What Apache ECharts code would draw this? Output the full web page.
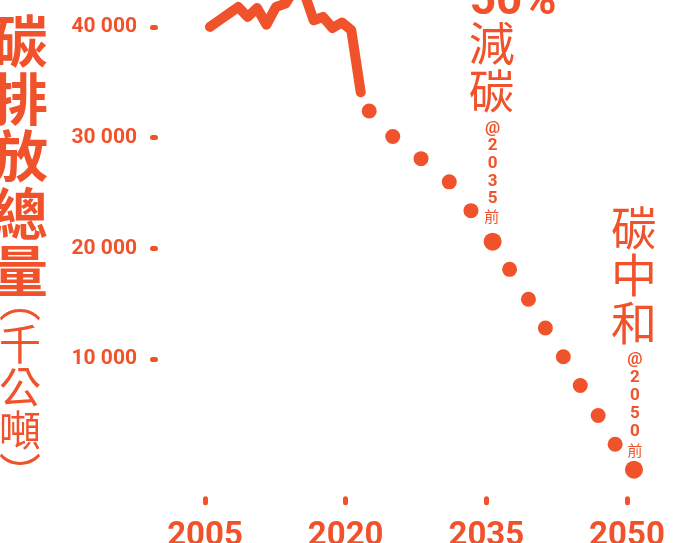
<!DOCTYPE html>
<html>
<head>
<meta charset="utf-8">
<title>碳排放總量</title>
<script src="https://cdn.jsdelivr.net/npm/echarts@6/dist/echarts.min.js"></script>
<style>
    html, body { margin: 0; padding: 0; background: #fff; }
    #main { width: 681px; height: 543px; }
</style>
</head>
<body>
<div id="main"></div>
<script>
// 實際排放 (千公噸)
var histYears = [2005, 2006, 2007, 2008, 2009, 2010, 2011, 2012, 2013, 2014, 2015, 2016, 2017, 2018, 2019, 2020, 2021];
var histValues = [40000, 40600, 41200, 41800, 40900, 41700, 40200, 41800, 42100, 43400, 43100, 40600, 40900, 39900, 40400, 39700, 34100];
// 減碳路徑
var pathYears = [2021.9, 2024.4, 2027.4, 2030.4, 2032.7, 2035, 2036.8, 2038.8, 2040.6, 2042.5, 2044.3, 2046.2, 2048, 2050];
var pathValues = [32400, 30100, 28100, 26000, 23400, 20600, 18100, 15400, 12800, 10200, 7600, 4900, 2300, 0];
var targetYears = [2035, 2050];
var xTicks = [2005, 2020, 2035, 2050];
var yTicks = [10000, 20000, 30000, 40000];

var color = '#F0532B';
var cjk = '"Noto Sans CJK TC", "Noto Sans CJK SC", sans-serif';

var chart = echarts.init(document.getElementById('main'));

function fmt(v) {
    return String(v).replace(/\B(?=(\d{3})+(?!\d))/g, ' ');
}

// 直排文字
function vert(s) {
    return s.split('').join('\n');
}

chart.setOption({
    animation: false,
    grid: {left: 155.5, right: 16.5, top: 0, bottom: 44.2, outerBoundsMode: 'none', containLabel: false},
    xAxis: [
        {type: 'value', min: 1999.22, max: 2053.24, show: false, position: 'top'},
        {
            type: 'value', min: 1999.72, max: 2054, position: 'bottom',
            axisLine: {show: false}, splitLine: {show: false},
            axisTick: {customValues: xTicks, length: 4, lineStyle: {color: color, width: 5, cap: 'round'}},
            axisLabel: {customValues: xTicks, margin: 21, color: color, fontFamily: 'Roboto', fontWeight: 'bold', fontSize: 33,
                formatter: function (v) { return String(v); }}
        }
    ],
    yAxis: {
        type: 'value', min: -2630, max: 42430,
        axisLine: {show: false}, splitLine: {show: false},
        axisTick: {customValues: yTicks, length: 3, lineStyle: {color: color, width: 5, cap: 'round'}},
        axisLabel: {customValues: yTicks, margin: 18.5, color: color, fontFamily: 'Roboto', fontWeight: 'bold', fontSize: 21, formatter: fmt}
    },
    series: [
        {
            type: 'line', xAxisIndex: 0, symbol: 'none', clip: false,
            data: histYears.map(function (y, i) { return [y, histValues[i]]; }),
            lineStyle: {color: color, width: 10, cap: 'round', join: 'round'}
        },
        {
            type: 'scatter', xAxisIndex: 0, clip: false,
            data: pathYears.map(function (y, i) { return [y, pathValues[i]]; }),
            symbolSize: function (d) { return targetYears.indexOf(d[0]) >= 0 ? 18 : 15; },
            itemStyle: {color: color, opacity: 1}
        }
    ]
});

var x35 = chart.convertToPixel({xAxisIndex: 0, yAxisIndex: 0}, [2035, 0])[0];
var x50 = chart.convertToPixel({xAxisIndex: 0, yAxisIndex: 0}, [2050, 0])[0];

chart.setOption({
    graphic: [
        // y軸標題
        {type: 'text', x: 20, y: 12, style: {text: vert('碳排放總量'), fontFamily: cjk, fontWeight: 'bold', fontSize: 56, lineHeight: 57.5, fill: color, align: 'center', verticalAlign: 'top'}},
        {type: 'text', x: 20, y: 280, style: {text: vert('︵千公噸︶'), fontFamily: cjk, fontSize: 42, lineHeight: 43, fill: color, align: 'center', verticalAlign: 'top'}},
        // 2035 目標
        {type: 'text', x: x35 - 23, y: 2, style: {text: '50%', fontFamily: 'Roboto', fontWeight: 'bold', fontSize: 46, fill: color, align: 'left', verticalAlign: 'middle'}},
        {type: 'text', x: x35 - 1, y: 18.5, style: {text: vert('減碳'), fontFamily: cjk, fontSize: 46, lineHeight: 48, fill: color, align: 'center', verticalAlign: 'top'}},
        {type: 'text', x: x35, y: 119.7, style: {text: vert('@2035'), fontFamily: 'Roboto', fontWeight: 'bold', fontSize: 17, lineHeight: 17.6, fill: color, align: 'center', verticalAlign: 'top'}},
        {type: 'text', x: x35 - 1, y: 208.5, style: {text: '前', fontFamily: cjk, fontSize: 15, lineHeight: 16, fill: color, align: 'center', verticalAlign: 'top'}},
        // 2050 目標
        {type: 'text', x: x50, y: 204, style: {text: vert('碳中和'), fontFamily: cjk, fontSize: 46, lineHeight: 47.3, fill: color, align: 'center', verticalAlign: 'top'}},
        {type: 'text', x: x50 + 1, y: 351, style: {text: vert('@2050'), fontFamily: 'Roboto', fontWeight: 'bold', fontSize: 17, lineHeight: 17.9, fill: color, align: 'center', verticalAlign: 'top'}},
        {type: 'text', x: x50 + 1, y: 442, style: {text: '前', fontFamily: cjk, fontSize: 15, lineHeight: 16, fill: color, align: 'center', verticalAlign: 'top'}}
    ]
});
</script>
</body>
</html>
